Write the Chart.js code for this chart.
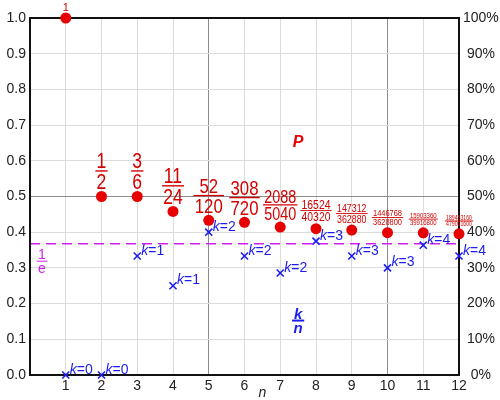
<!DOCTYPE html>
<html>
<head>
<meta charset="utf-8">
<script src="https://cdn.jsdelivr.net/npm/chart.js@4.4.1/dist/chart.umd.min.js"></script>
<style>
  html, body { margin: 0; padding: 0; background: #fff; }
  #wrap { width: 500px; height: 400px; position: relative; }
</style>
</head>
<body>
<div id="wrap"><canvas id="chart"></canvas></div>
<script>
// dados
const nValues = [1, 2, 3, 4, 5, 6, 7, 8, 9, 10, 11, 12];
const pNumerators = [1, 1, 3, 11, 52, 308, 2088, 16524, 147312, 1446768, 15903360, 189453160];
const pDenominators = [1, 2, 6, 24, 120, 720, 5040, 40320, 362880, 3628800, 39916800, 479001600];
const kValues = [0, 0, 1, 1, 2, 2, 2, 3, 3, 3, 4, 4];
const inverseE = 0.3679;
const yTicks = [0, 0.1, 0.2, 0.3, 0.4, 0.5, 0.6, 0.7, 0.8, 0.9, 1.0];
const percentTicks = ['0%', '10%', '20%', '30%', '40%', '50%', '60%', '70%', '80%', '90%', '100%'];

// estilos dos rótulos das frações (tamanho da fonte)
const fracFontSizes = [11, 22, 22, 22, 21, 21, 18, 13, 11, 9.3, 7.5, 6.5];

const RED = '#e60000';
const RED_TEXT = '#d40000';
const BLUE = '#1c1cf0';
const MAGENTA = '#d21ef0';
const FONT = '"Liberation Sans", Arial, sans-serif';

const pPoints = nValues.map((n, i) => ({ x: n, y: pNumerators[i] / pDenominators[i] }));
const kPoints = nValues.map((n, i) => ({ x: n, y: kValues[i] / n }));

// desenha moldura e linha 1/e por baixo dos pontos
const framePlugin = {
    id: 'frame',
    beforeDatasetsDraw(chart) {
        const { ctx, chartArea: a, scales } = chart;
        const yE = scales.y.getPixelForValue(inverseE);
        ctx.save();
        ctx.strokeStyle = MAGENTA;
        ctx.lineWidth = 1.5;
        ctx.setLineDash([10, 6]);
        ctx.beginPath();
        ctx.moveTo(a.left, yE);
        ctx.lineTo(a.right, yE);
        ctx.stroke();
        ctx.setLineDash([]);
        ctx.strokeStyle = '#111';
        ctx.lineWidth = 2;
        ctx.strokeRect(a.left, a.top, a.right - a.left, a.bottom - a.top);
        ctx.restore();
    }
};

function drawFraction(ctx, num, den, cx, bottom, size, color, opts) {
    opts = opts || {};
    ctx.save();
    ctx.fillStyle = color;
    ctx.strokeStyle = color;
    ctx.font = (opts.style || '') + ' ' + size + 'px ' + FONT;
    ctx.textAlign = 'center';
    ctx.textBaseline = 'alphabetic';
    const w = Math.max(ctx.measureText(num).width, ctx.measureText(den).width);
    const sx = opts.noScale ? 1 : Math.min(0.8, 32 / w);
    const cap = size * 0.72;
    const barY = bottom - cap - size * 0.1;
    ctx.translate(cx, 0);
    ctx.scale(sx, 1);
    ctx.fillText(den, 0, bottom);
    ctx.lineWidth = opts.barWidth || (size > 15 ? 1.4 : 1);
    ctx.beginPath();
    ctx.moveTo(-w / 2 - 1.5, barY);
    ctx.lineTo(w / 2 + 1.5, barY);
    ctx.stroke();
    ctx.fillText(num, 0, barY - size * 0.13);
    ctx.restore();
}

const labelPlugin = {
    id: 'labels',
    afterDatasetsDraw(chart) {
        const { ctx, scales, chartArea: a } = chart;
        const x = scales.x, y = scales.y;

        // frações de P
        pPoints.forEach((p, i) => {
            const px = x.getPixelForValue(p.x);
            const py = y.getPixelForValue(p.y);
            if (pDenominators[i] === 1) {
                ctx.save();
                ctx.fillStyle = RED_TEXT;
                ctx.font = fracFontSizes[i] + 'px ' + FONT;
                ctx.textAlign = 'center';
                ctx.fillText(String(pNumerators[i]), px, py - 7.5);
                ctx.restore();
            } else {
                drawFraction(ctx, String(pNumerators[i]), String(pDenominators[i]),
                    px, py - 7.5, fracFontSizes[i], RED_TEXT);
            }
        });

        // rótulos k=...
        kPoints.forEach((p, i) => {
            const px = x.getPixelForValue(p.x) + 4;
            const py = y.getPixelForValue(p.y) - 1.5;
            ctx.save();
            ctx.fillStyle = BLUE;
            ctx.textAlign = 'left';
            ctx.font = 'italic 14px ' + FONT;
            ctx.fillText('k', px, py);
            const kw = ctx.measureText('k').width;
            ctx.font = '14px ' + FONT;
            ctx.fillText('=' + kValues[i], px + kw, py);
            ctx.restore();
        });

        // P
        ctx.save();
        ctx.fillStyle = RED;
        ctx.font = 'italic bold 16px ' + FONT;
        ctx.textAlign = 'center';
        ctx.fillText('P', x.getPixelForValue(7.5), y.getPixelForValue(0.639));
        ctx.restore();

        // k/n
        drawFraction(ctx, 'k', 'n', x.getPixelForValue(7.5), y.getPixelForValue(0.118), 15, BLUE,
            { style: 'italic bold', noScale: true, barWidth: 2 });

        // 1/e
        drawFraction(ctx, '1', 'e', a.left + 12, y.getPixelForValue(inverseE) + 29, 14, MAGENTA,
            { noScale: true });

        // título do eixo n
        ctx.save();
        ctx.fillStyle = '#222';
        ctx.font = 'italic 14px ' + FONT;
        ctx.textAlign = 'center';
        ctx.fillText('n', x.getPixelForValue(6.5), 397);
        ctx.restore();
    }
};

function gridColor(ctx, major) {
    const v = ctx.tick ? ctx.tick.value : null;
    if (v !== null && major.some(m => Math.abs(v - m) < 1e-6)) return '#8c8c8c';
    return '#dcdcdc';
}

const ctxChart = document.getElementById('chart');
// probabilidade P e proporções k/n
new Chart(ctxChart, {
    type: 'scatter',
    data: {
        datasets: [{
            label: 'k/n',
            data: kPoints,
            pointStyle: 'crossRot',
            pointRadius: 5,
            pointBorderWidth: 1.6,
            borderColor: BLUE,
            backgroundColor: BLUE,
            clip: false
        }, {
            label: 'P',
            data: pPoints,
            pointStyle: 'circle',
            pointRadius: 5.5,
            borderWidth: 0,
            backgroundColor: RED,
            borderColor: RED,
            clip: false
        }]
    },
    plugins: [framePlugin, labelPlugin],
    options: {
        responsive: true,
        maintainAspectRatio: false,
        animation: false,
        layout: { padding: { top: 18, left: 0, right: 0, bottom: 0 } },
        plugins: {
            legend: { display: false },
            tooltip: { enabled: false }
        },
        scales: {
            x: {
                type: 'linear',
                min: 0,
                max: 12,
                border: { display: false },
                grid: {
                    drawTicks: false,
                    color: c => gridColor(c, [5, 10])
                },
                ticks: {
                    stepSize: 1,
                    padding: 3,
                    color: '#222',
                    font: { family: FONT, size: 14 },
                    callback: v => (v === 0 ? '' : String(v))
                },
                afterFit: s => { s.height = 25; }
            },
            y: {
                min: 0,
                max: 1,
                position: 'left',
                border: { display: false },
                grid: {
                    drawTicks: false,
                    color: c => gridColor(c, [0.5])
                },
                afterBuildTicks: s => { s.ticks = yTicks.map(v => ({ value: v })); },
                ticks: {
                    padding: 4,
                    color: '#222',
                    font: { family: FONT, size: 14 },
                    callback: v => v.toFixed(1)
                },
                afterFit: s => { s.width = 30; }
            },
            y2: {
                min: 0,
                max: 1,
                position: 'right',
                border: { display: false },
                grid: { drawOnChartArea: false, drawTicks: false },
                afterBuildTicks: s => { s.ticks = yTicks.map(v => ({ value: v })); },
                ticks: {
                    padding: 4,
                    crossAlign: 'center',
                    color: '#222',
                    font: { family: FONT, size: 14 },
                    callback: (v, i) => percentTicks[i]
                },
                afterFit: s => { s.width = 41; }
            }
        }
    }
});
</script>
</body>
</html>
